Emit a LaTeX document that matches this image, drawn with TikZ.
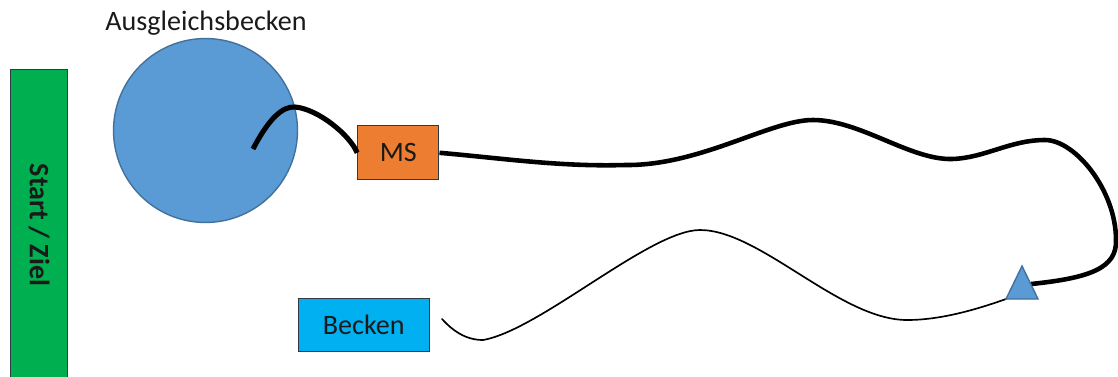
\documentclass[tikz,border=0pt]{standalone}
\usepackage{fontspec}
\setmainfont{Carlito}

\definecolor{poolblue}{HTML}{5B9BD5}
\definecolor{pooledge}{HTML}{41719C}
\definecolor{msorange}{HTML}{ED7D31}
\definecolor{basincyan}{HTML}{00B0F0}
\definecolor{startgreen}{HTML}{00B050}
\definecolor{edgegray}{HTML}{2F3A45}
\definecolor{textdark}{HTML}{1A1A1A}

\tikzset{
  box/.style={draw=edgegray, line width=0.6pt, inner sep=0pt,
              font=\fontsize{16}{18}\selectfont, text=textdark},
  pipe/.style={line width=2.6pt, line join=round},
  hose/.style={line width=0.95pt, line cap=round, line join=round},
}

\begin{document}
\begin{tikzpicture}[x=0.02cm, y=-0.02cm]
  \useasboundingbox (0,0) rectangle (1118,376);

  % start / finish bar
  \node[box, fill=startgreen, minimum width=1.14cm, minimum height=6.2cm]
    (start) at (39.3,224) {};
  \node[rotate=-90, font=\bfseries\fontsize{16}{18}\selectfont, text=textdark]
    (startlabel) at (39,225) {Start / Ziel};

  % balancing reservoir
  \node[circle, draw=pooledge, line width=0.8pt, fill=poolblue,
        minimum size=3.68cm, inner sep=0pt] (pool) at (205.5,130.5) {};
  \node[font=\fontsize{16}{18}\selectfont, text=textdark]
    (poollabel) at (206,23) {Ausgleichsbecken};

  % measuring station and basin
  \node[box, fill=msorange, minimum width=1.626cm, minimum height=1.086cm]
    (ms) at (398.3,152.8) {MS};
  \node[box, fill=basincyan, minimum width=2.62cm, minimum height=1.054cm]
    (basin) at (363.8,325.3) {Becken};

  % triangle marker corners and the point where the pipe meets it
  \coordinate (triTop) at (1022,266);
  \coordinate (triL) at (1006,299);
  \coordinate (triR) at (1038,299);
  \coordinate (triSide) at (1031,284);

  % pipe from reservoir to MS
  \coordinate (inlet) at (253,149);
  \coordinate (crest) at (295,107);
  \draw[pipe, line width=2.9pt]
    (inlet) .. controls (268,120) and (282,106) .. (crest)
            .. controls (318,109) and (350,135) .. (ms.west);

  % thick line from MS round to the marker
  \coordinate (dip1) at (625,165);
  \coordinate (top1) at (813,120);
  \coordinate (dip2) at (952,159);
  \coordinate (top2) at (1045,140);
  \coordinate (bend) at (1116,240);
  \draw[pipe]
    (ms.east) .. controls (500,158) and (560,167) .. (dip1)
              .. controls (700,166) and (770,120) .. (top1)
              .. controls (860,120) and (910,160) .. (dip2)
              .. controls (985,158) and (1010,140) .. (top2)
              .. controls (1075,140) and (1116,190) .. (bend)
              .. controls (1117,268) and (1090,278) .. (triSide);

  % thin line from the marker back towards the basin
  \coordinate (low1) at (907,320);
  \coordinate (high1) at (700,230);
  \coordinate (low2) at (483,340);
  \coordinate (outlet) at (442,319);
  \draw[hose]
    (triL) .. controls (975,310) and (940,320) .. (low1)
           .. controls (840,320) and (760,230) .. (high1)
           .. controls (650,230) and (540,330) .. (low2)
           .. controls (465,340) and (452,330) .. (outlet);

  \draw[draw=pooledge, fill=poolblue, line width=0.8pt, line join=miter]
    (triTop) -- (triR) -- (triL) -- cycle;
\end{tikzpicture}
\end{document}
